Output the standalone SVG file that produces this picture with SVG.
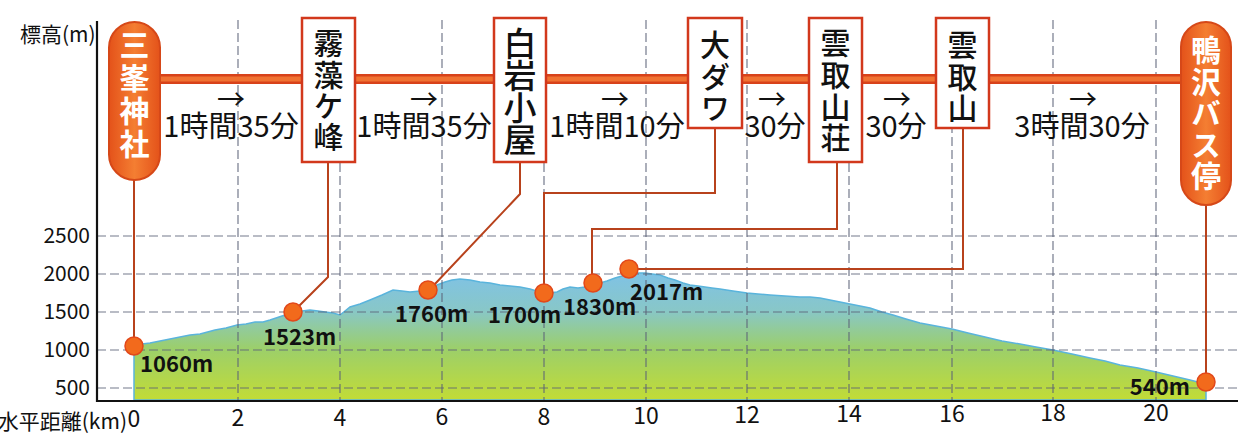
<svg xmlns="http://www.w3.org/2000/svg" width="1240" height="438" viewBox="0 0 1240 438">
<defs>
<linearGradient id="terrain" gradientUnits="userSpaceOnUse" x1="0" y1="272" x2="0" y2="400">
<stop offset="0" stop-color="#7fc2e6"/>
<stop offset="0.3" stop-color="#88c7c8"/>
<stop offset="0.6" stop-color="#9ccf6a"/>
<stop offset="1" stop-color="#c2dc36"/>
</linearGradient>
<linearGradient id="pillGrad" x1="0" y1="0" x2="1" y2="0">
<stop offset="0" stop-color="#e4521a"/>
<stop offset="0.5" stop-color="#f47e32"/>
<stop offset="1" stop-color="#e4521a"/>
</linearGradient>
<style>
.grid{stroke:#5c6378;stroke-width:1.2;stroke-dasharray:9 4;fill:none;opacity:0.85}
.axis{stroke:#111;stroke-width:2.2;fill:none}
.route{stroke:#d8421a;stroke-width:10;fill:none}
.routein{stroke:#f07232;stroke-width:5;fill:none}
.box{fill:#fff;stroke:#d2381c;stroke-width:2.5}
.pill{fill:url(#pillGrad);stroke:#d64818;stroke-width:2}
.conn{fill:none;stroke:#b8421c;stroke-width:2}
.dot{fill:#f26a1c;stroke:#e2481a;stroke-width:1.5}
text{font-family:"Noto Sans CJK JP","Noto Sans",sans-serif;fill:#111}
.ax{font-size:21px}
.tick{font-size:23px;text-anchor:middle}
.vt{writing-mode:vertical-rl;text-orientation:upright}
.name{font-size:30px;font-weight:500}
.pname{font-size:30px;font-weight:700;fill:#fff}
.time{font-size:29px;text-anchor:middle}
.arr{font-size:28px}
.elev{font-size:22px;font-weight:700}
</style>
</defs>

<!-- terrain -->
<path id="terrain-fill" fill="url(#terrain)" stroke="#5ab4dc" stroke-width="1.5" d="M134,400 L134,347 L142,344 L150,343 L160,341 L170,339 L180,337 L190,335 L200,334 L215,330 L226,328 L237,325 L246,324 L255,322 L263,322 L270,320 L282,316 L293,313 L302,311 L310,310 L318,311 L325,312 L333,313 L340,315 L345,311 L350,307 L360,304 L370,300 L382,295 L393,290 L402,291 L410,292 L420,291 L428,290 L437,285 L445,282 L452,280 L460,279 L470,280 L480,282 L490,283 L500,285 L510,286 L520,287 L530,289 L540,292 L549,293 L557,292 L563,289 L570,287 L578,288 L585,287 L593,285 L600,283 L607,281 L615,278 L622,276 L630,275 L638,273 L645,273 L652,274 L660,275 L668,278 L675,280 L683,283 L690,285 L698,286 L705,287 L712,288 L720,289 L733,291 L747,293 L758,294 L770,295 L785,296 L800,297 L810,297 L820,298 L830,300 L840,302 L855,305 L870,308 L882,312 L893,315 L906,319 L920,323 L936,326 L952,329 L968,333 L985,337 L1002,341 L1020,344 L1036,347 L1053,350 L1072,354 L1090,358 L1105,361 L1120,365 L1138,368 L1156,372 L1173,376 L1190,380 L1206,384 L1206,400 Z"/>

<!-- grid -->
<g id="grid">
<line class="grid" x1="97" y1="236" x2="1237" y2="236"/>
<line class="grid" x1="97" y1="274" x2="1237" y2="274"/>
<line class="grid" x1="97" y1="312" x2="1237" y2="312"/>
<line class="grid" x1="97" y1="350" x2="1237" y2="350"/>
<line class="grid" x1="97" y1="388" x2="1237" y2="388"/>
<line class="grid" x1="238" y1="20" x2="238" y2="400"/>
<line class="grid" x1="340" y1="20" x2="340" y2="400"/>
<line class="grid" x1="442" y1="20" x2="442" y2="400"/>
<line class="grid" x1="544" y1="20" x2="544" y2="400"/>
<line class="grid" x1="646" y1="20" x2="646" y2="400"/>
<line class="grid" x1="747" y1="20" x2="747" y2="400"/>
<line class="grid" x1="849" y1="20" x2="849" y2="400"/>
<line class="grid" x1="952" y1="20" x2="952" y2="400"/>
<line class="grid" x1="1053" y1="20" x2="1053" y2="400"/>
<line class="grid" x1="1156" y1="20" x2="1156" y2="400"/>
</g>

<!-- axes -->
<g id="axes">
<path class="axis" d="M97,21 L97,401 L1238,401"/>
<text class="ax" x="20" y="42">標高(m)</text>
<text class="ax" x="90" y="243" text-anchor="end">2500</text>
<text class="ax" x="90" y="281" text-anchor="end">2000</text>
<text class="ax" x="90" y="319" text-anchor="end">1500</text>
<text class="ax" x="90" y="357" text-anchor="end">1000</text>
<text class="ax" x="90" y="395" text-anchor="end">500</text>
<text class="ax" x="127" y="429" text-anchor="end">水平距離(km)</text>
<text class="tick" x="134" y="427">0</text>
<text class="tick" x="238" y="426">2</text>
<text class="tick" x="340" y="426">4</text>
<text class="tick" x="442" y="425">6</text>
<text class="tick" x="544" y="425">8</text>
<text class="tick" x="646" y="424">10</text>
<text class="tick" x="747" y="423">12</text>
<text class="tick" x="849" y="422">14</text>
<text class="tick" x="952" y="422">16</text>
<text class="tick" x="1053" y="421">18</text>
<text class="tick" x="1156" y="421">20</text>
</g>

<!-- connectors -->
<g id="connectors">
<line class="route" x1="158" y1="79" x2="1183" y2="79"/>
<line class="routein" x1="158" y1="79" x2="1183" y2="79"/>
<path class="conn" d="M134,180 L134,340"/>
<path class="conn" d="M328,162 L328,277 L299,306"/>
<path class="conn" d="M520,162 L520,194 L434,285"/>
<path class="conn" d="M715,128 L715,193 L544,193 L544,286"/>
<path class="conn" d="M837,162 L837,229 L592,229 L592,276"/>
<path class="conn" d="M963,128 L963,269 L636,269"/>
<path class="conn" d="M1206,205 L1206,376"/>
</g>

<!-- time labels -->
<g id="times">
<text class="time"><tspan class="arr" x="231" y="110">→</tspan><tspan x="231" y="137">1時間35分</tspan></text>
<text class="time"><tspan class="arr" x="424" y="110">→</tspan><tspan x="424" y="137">1時間35分</tspan></text>
<text class="time"><tspan class="arr" x="615" y="110">→</tspan><tspan x="617" y="137">1時間10分</tspan></text>
<text class="time"><tspan class="arr" x="772" y="110">→</tspan><tspan x="775" y="137">30分</tspan></text>
<text class="time"><tspan class="arr" x="897" y="110">→</tspan><tspan x="896" y="137">30分</tspan></text>
<text class="time"><tspan class="arr" x="1083" y="110">→</tspan><tspan x="1082" y="137">3時間30分</tspan></text>
</g>

<!-- nodes -->
<g id="mitsumine">
<rect class="pill" x="109" y="22" width="51" height="158" rx="25.5"/>
<text class="pname vt" x="134.5" y="30" style="letter-spacing:3px">三峯神社</text>
<circle class="dot" cx="134" cy="346" r="9"/>
<text class="elev" x="140" y="372">1060m</text>
</g>
<g id="kiritomogamine">
<rect class="box" x="302" y="18" width="53" height="144"/>
<text class="name vt" x="328.5" y="28" style="letter-spacing:1.3px">霧藻ケ峰</text>
<circle class="dot" cx="293" cy="312" r="9"/>
<text class="elev" x="263" y="345">1523m</text>
</g>
<g id="shiraiwa">
<rect class="box" x="494" y="18" width="52" height="144"/>
<text class="name vt" x="520" y="27" style="font-size:33px;letter-spacing:-1px">白岩小屋</text>
<circle class="dot" cx="428" cy="290" r="9"/>
<text class="elev" x="395" y="322">1760m</text>
</g>
<g id="odawa">
<rect class="box" x="688" y="18" width="54" height="110"/>
<text class="name vt" x="715" y="30" style="letter-spacing:1.5px">大ダワ</text>
<circle class="dot" cx="544" cy="293" r="9"/>
<text class="elev" x="488" y="323">1700m</text>
</g>
<g id="kumotori-sanso">
<rect class="box" x="809" y="18" width="53" height="144"/>
<text class="name vt" x="835.5" y="28" style="letter-spacing:1.7px">雲取山荘</text>
<circle class="dot" cx="593" cy="283" r="9"/>
<text class="elev" x="563" y="315">1830m</text>
</g>
<g id="kumotoriyama">
<rect class="box" x="936" y="18" width="53" height="110"/>
<text class="name vt" x="962.5" y="30" style="letter-spacing:1.5px">雲取山</text>
<circle class="dot" cx="629" cy="269" r="9"/>
<text class="elev" x="630" y="300">2017m</text>
</g>
<g id="kamosawa">
<rect class="pill" x="1181" y="22" width="50" height="183" rx="25"/>
<text class="pname vt" x="1206" y="35" style="letter-spacing:1.5px">鴨沢バス停</text>
<circle class="dot" cx="1206" cy="382" r="9"/>
<text class="elev" x="1190" y="395" text-anchor="end">540m</text>
</g>
</svg>
